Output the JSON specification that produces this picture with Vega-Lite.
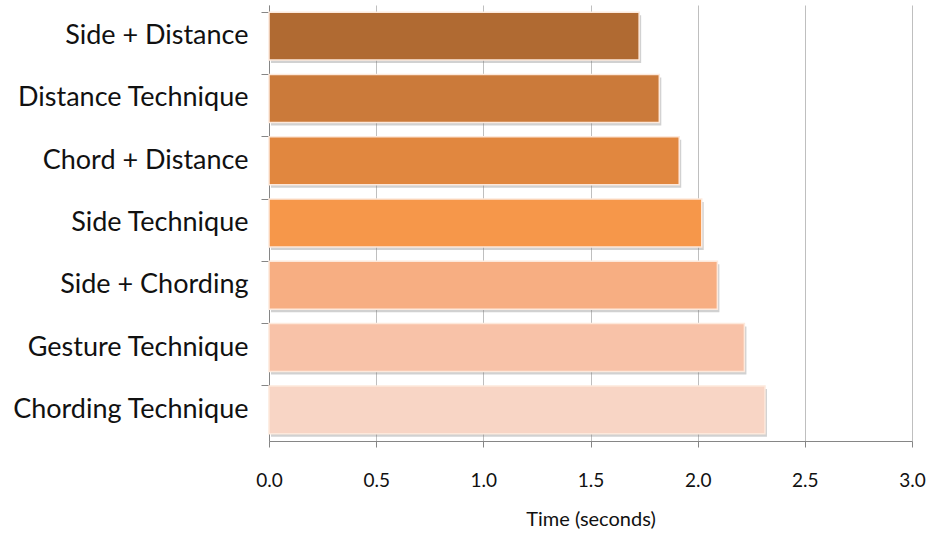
{
  "$schema": "https://vega.github.io/schema/vega-lite/v6.json",
  "width": 643,
  "height": 436,
  "autosize": "none",
  "padding": {"left": 269, "top": 5, "right": 22, "bottom": 95},
  "background": "white",
  "config": {"view": {"stroke": null}},
  "data": {
    "values": [
      {"technique": "Side + Distance", "time": 1.727, "color": "#B06A32"},
      {"technique": "Distance Technique", "time": 1.821, "color": "#CB7A3A"},
      {"technique": "Chord + Distance", "time": 1.914, "color": "#E1873F"},
      {"technique": "Side Technique", "time": 2.019, "color": "#F6974A"},
      {"technique": "Side + Chording", "time": 2.092, "color": "#F7AE82"},
      {"technique": "Gesture Technique", "time": 2.218, "color": "#F8C2A8"},
      {"technique": "Chording Technique", "time": 2.314, "color": "#F8D5C5"}
    ]
  },
  "encoding": {
    "y": {
      "field": "technique", "type": "nominal", "sort": null,
      "scale": {"paddingInner": 0.23, "paddingOuter": 0.115},
      "axis": {
        "title": null, "bandPosition": 0, "domainColor": "#868686", "tickColor": "#868686",
        "tickSize": 8, "labelPadding": 13, "labelFont": "Lato", "labelFontSize": 27, "labelLimit": 400,
        "labelColor": "#111111", "grid": false
      }
    },
    "x": {
      "field": "time", "type": "quantitative",
      "scale": {"domain": [0, 3]},
      "axis": {
        "title": "Time (seconds)", "values": [0, 0.5, 1, 1.5, 2, 2.5, 3], "format": ".1f",
        "domainColor": "#868686", "tickColor": "#868686", "tickSize": 6, "labelFlush": false,
        "gridColor": "#BFBFBF", "gridWidth": 1,
        "labelFont": "Lato", "labelFontSize": 19, "labelColor": "#111111", "labelPadding": 24,
        "titleFont": "Lato", "titleFontSize": 20, "titleFontWeight": "normal", "titleColor": "#111111", "titlePadding": 19
      }
    }
  },
  "layer": [
    {
      "mark": {"type": "bar", "color": "#7a7a7a", "opacity": 0.35, "xOffset": 2, "yOffset": 3},
      "encoding": {}
    },
    {
      "mark": {"type": "bar", "stroke": "#fde9dc", "strokeWidth": 1.5},
      "encoding": {"color": {"field": "color", "type": "nominal", "scale": null, "legend": null}}
    }
  ]
}
